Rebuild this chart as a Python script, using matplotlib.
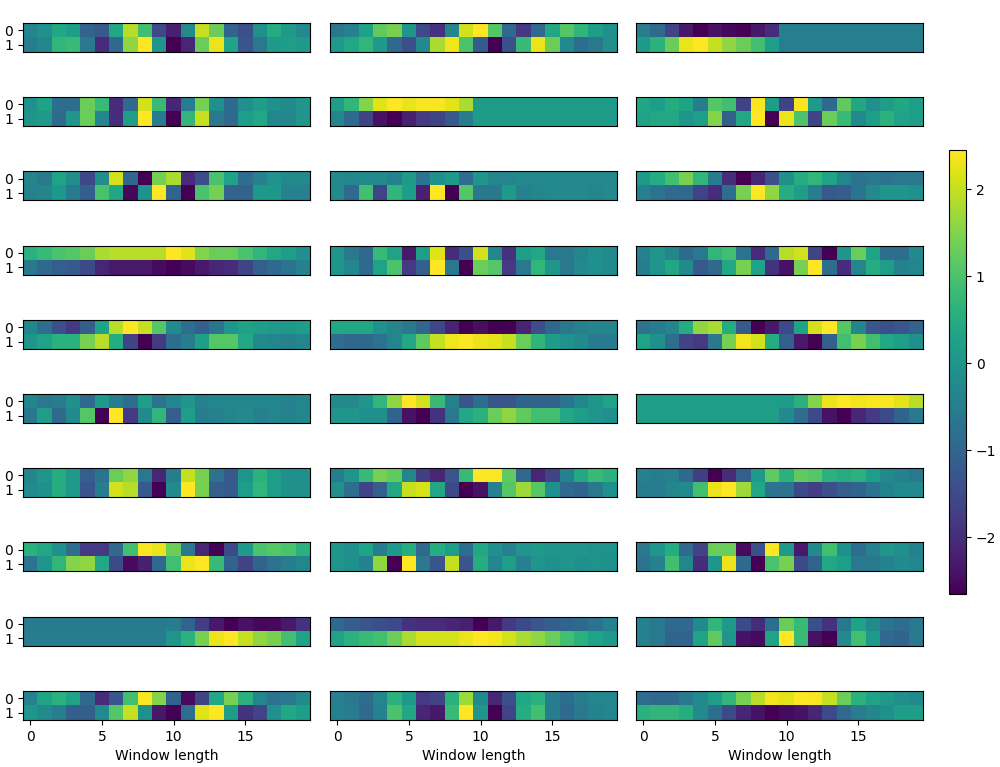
import matplotlib
matplotlib.use("Agg")
import matplotlib.pyplot as plt
import numpy as np

window = list(range(20))
channels = ["0", "1"]
xticks = [0, 5, 10, 15]
cbar_ticks = [-2, -1, 0, 1, 2]

# ---- column 1 ----
c1r1 = [[-0.3, -0.1, 0.4, 0.2, -1.0, -1.2, 0.4, 1.9, 0.9, -1.5, -2.2, -0.2, 2.0, 1.3, -1.0, -1.4, -0.1, 0.5, 0.1, -0.2],
        [-0.5, -0.3, 0.7, 0.8, -0.6, -2.0, -0.9, 1.6, 2.45, 0.0, -2.65, -2.1, 1.3, 2.3, 0.3, -1.3, -0.6, 0.1, 0.2, 0.1]]
c1r2 = [[-0.1, 0.3, -0.8, -0.8, 1.3, 0.8, -2.0, -0.9, 2.1, 0.8, -2.1, -0.5, 1.4, -0.1, -0.9, -0.1, 0.2, -0.1, -0.2, 0.0],
        [0.0, 0.1, -0.9, 0.0, 1.3, -0.3, -2.0, 0.2, 2.45, -0.5, -2.65, 0.7, 2.0, -0.6, -0.9, 0.2, 0.4, -0.3, -0.3, 0.0]]
c1r3 = [[-0.3, -0.5, 0.3, -0.1, -1.5, -0.1, 2.1, -0.9, -2.6, 1.4, 1.8, -2.0, -1.4, 1.0, 0.3, -0.8, -0.4, 0.0, -0.2, -0.2],
        [-0.4, -0.3, 0.1, -0.5, -1.1, 1.0, 0.4, -2.5, 0.0, 2.45, -1.0, -2.6, 1.0, 1.4, -1.0, -1.0, 0.1, 0.1, -0.4, -0.4]]
c1r4 = [[0.6, 0.8, 1.0, 1.1, 1.3, 1.8, 1.9, 1.9, 1.9, 1.9, 2.45, 2.2, 1.5, 1.3, 1.3, 1.0, 0.7, 0.4, 0.2, -0.1],
        [-0.6, -0.9, -1.1, -1.2, -1.5, -2.1, -2.3, -2.3, -2.3, -2.5, -2.65, -2.5, -2.3, -2.1, -2.0, -1.6, -1.1, -0.9, -0.7, -0.4]]
c1r5 = [[-0.3, -0.8, -1.4, -1.8, -1.1, 0.3, 1.9, 2.45, 2.0, 1.1, -0.2, -0.8, -1.1, -0.7, 0.0, 0.3, 0.2, 0.1, 0.1, 0.2],
        [0.0, 0.3, 0.6, 0.6, 1.4, 1.9, 0.5, -1.6, -2.65, -1.8, -0.8, -0.5, 0.2, 1.1, 1.1, 0.4, -0.2, -0.3, -0.4, -0.3]]
c1r6 = [[-0.3, -0.6, -0.5, -0.1, -0.9, 0.1, -0.5, -0.8, 0.2, -0.7, -0.3, 0.0, -0.4, -0.3, -0.3, -0.3, -0.3, -0.3, -0.4, -0.3],
        [-0.6, 0.2, -0.9, -0.2, 1.1, -2.65, 2.45, -1.8, -0.2, 0.7, -1.1, 0.2, -0.5, -0.4, -0.3, -0.2, -0.4, -0.3, -0.4, -0.3]]
c1r7 = [[-0.3, 0.0, 0.5, 0.1, -1.1, -0.7, 1.3, 1.6, -0.6, -2.1, -0.5, 2.0, 1.4, -0.7, -1.2, 0.0, 0.6, 0.2, -0.1, -0.1],
        [-0.2, -0.1, 0.5, 0.1, -1.3, -0.5, 2.1, 1.9, -1.2, -2.65, -0.2, 2.45, 1.4, -1.1, -1.2, 0.2, 0.7, 0.2, -0.1, -0.1]]
c1r8 = [[0.6, 0.4, -0.1, -0.8, -1.8, -1.8, -0.9, 0.9, 2.4, 2.3, 1.3, -0.6, -2.1, -2.65, -1.5, 0.1, 1.0, 1.1, 1.0, 0.6],
        [-0.7, 0.0, 0.7, 1.5, 1.6, 0.4, -1.5, -2.5, -2.2, -0.9, 0.9, 2.3, 2.45, 0.8, -1.0, -1.6, -1.0, -0.7, -0.5, -0.3]]
c1r9 = [[-0.55, -0.55, -0.55, -0.55, -0.55, -0.55, -0.55, -0.55, -0.55, -0.55, -0.5, -1.0, -1.7, -2.3, -2.65, -2.4, -2.55, -2.55, -2.3, -1.9],
        [-0.5, -0.5, -0.5, -0.5, -0.5, -0.5, -0.5, -0.5, -0.5, -0.5, 0.0, 0.6, 1.4, 2.3, 2.45, 2.0, 1.6, 1.4, 0.9, 0.3]]
c1r10 = [[-0.4, 0.3, 0.6, 0.3, -0.9, -2.0, -1.3, 0.9, 2.4, 1.5, -1.0, -2.5, -1.6, 0.4, 1.4, 0.6, -0.3, -0.7, -0.6, -0.2],
         [0.0, -0.2, -0.5, -1.1, -1.1, -0.2, 1.1, 2.0, -0.1, -2.3, -2.65, -0.8, 2.2, 2.45, 0.2, -1.9, -1.6, -0.1, 0.4, 0.2]]

# ---- column 2 ----
c2r1 = [[-0.6, -0.4, 0.3, 1.2, 1.4, 0.0, -1.5, -1.9, -0.3, 2.1, 2.45, 1.1, -0.9, -1.8, -0.9, 0.4, 1.1, 0.7, 0.2, -0.1],
        [0.1, 0.4, 0.7, 0.1, -0.9, -1.4, -0.2, 1.8, 2.35, 1.0, -1.2, -2.65, -1.4, 0.8, 2.3, 1.3, -0.2, -0.8, -0.6, -0.1]]
c2r2 = [[0.2, 0.7, 1.5, 2.2, 2.45, 2.3, 2.4, 2.4, 2.25, 1.8, 0.15, 0.15, 0.15, 0.15, 0.15, 0.15, 0.15, 0.15, 0.15, 0.15],
        [-0.3, -0.9, -1.6, -2.4, -2.65, -2.2, -1.8, -1.6, -1.2, -0.5, 0.15, 0.15, 0.15, 0.15, 0.15, 0.15, 0.15, 0.15, 0.15, 0.15]]
c2r3 = [[-0.2, -0.3, -0.2, -0.2, -0.4, 0.1, -0.7, -0.1, 0.1, -0.8, 0.0, -0.3, -0.3, -0.2, -0.25, -0.25, -0.25, -0.25, -0.25, -0.25],
        [-0.2, -0.9, 0.9, -1.6, 0.7, 0.2, -2.2, 2.45, -2.65, 1.1, -0.6, -0.6, 0.1, -0.4, -0.3, -0.2, -0.25, -0.25, -0.3, -0.25]]
c2r4 = [[0.0, -0.6, -0.9, 0.8, 0.3, -2.3, 0.2, 2.2, -2.0, -1.4, 2.1, -0.3, -1.9, 0.2, 0.4, -0.6, -0.6, -0.3, -0.1, -0.2],
        [0.0, -0.3, -0.9, 0.3, 1.0, -1.8, -1.1, 2.45, -0.6, -2.65, 1.3, 1.1, -1.8, -0.6, 0.7, 0.0, -0.6, -0.2, -0.1, -0.2]]
c2r5 = [[0.4, 0.4, 0.4, 0.0, -0.3, -0.6, -0.9, -1.5, -2.1, -2.6, -2.4, -2.6, -2.6, -2.1, -1.4, -0.9, -0.6, -0.4, -0.3, -0.3],
        [-0.8, -0.9, -0.9, -0.7, -0.3, 0.4, 1.2, 2.0, 2.35, 2.45, 2.3, 2.25, 2.0, 1.3, 0.7, 0.2, 0.0, -0.2, -0.5, -0.5]]
c2r6 = [[-0.2, -0.2, 0.0, 0.7, 1.6, 2.45, 2.1, 0.8, -0.4, -1.3, -0.8, -1.3, -1.3, -1.0, -1.0, -1.0, -0.7, -0.3, 0.0, 0.3],
        [0.0, 0.0, -0.1, -0.1, -1.0, -2.4, -2.65, -1.9, -0.6, 0.4, 0.6, 1.3, 1.6, 1.2, 0.9, 0.9, 0.4, 0.2, 0.0, -0.1]]
c2r7 = [[-0.5, 0.0, 0.8, 1.4, 1.2, -0.3, -1.7, -2.1, -1.3, 0.8, 2.45, 2.45, 1.2, -0.9, -2.1, -1.6, -0.4, 0.4, 0.8, 0.6],
        [-0.1, -0.8, -1.6, -1.1, 0.4, 2.0, 2.15, 0.4, -1.5, -2.65, -2.4, -0.4, 1.1, 1.7, 1.1, -0.1, -0.9, -1.0, -0.6, -0.1]]
c2r8 = [[0.0, -0.1, 0.3, -0.5, 0.1, 0.5, -0.9, 0.5, 0.2, -0.8, 0.4, -0.1, -0.4, 0.0, 0.1, 0.0, 0.0, 0.0, -0.05, -0.05],
        [0.0, -0.1, -0.4, 1.6, -2.65, 2.45, -0.6, -1.3, 2.0, -1.3, 0.5, -0.3, 0.2, -0.4, 0.0, -0.1, 0.0, -0.1, -0.05, -0.1]]
c2r9 = [[-0.9, -1.1, -1.3, -1.4, -1.5, -1.9, -2.0, -2.0, -2.1, -2.2, -2.65, -2.3, -1.8, -1.5, -1.3, -1.1, -1.0, -0.9, -0.7, -0.4],
        [0.3, 0.6, 0.8, 0.9, 1.3, 1.8, 2.1, 2.1, 2.1, 2.3, 2.45, 2.35, 2.1, 1.8, 1.6, 1.3, 0.9, 0.6, 0.3, 0.1]]
c2r10 = [[-0.4, -0.6, -0.8, -0.3, 0.6, 0.1, -1.8, -1.6, 0.6, 1.7, -0.2, -2.1, -1.4, 0.4, 0.6, -0.5, -0.8, -0.5, -0.3, -0.3],
         [-0.4, -0.5, -0.9, -0.4, 1.0, 0.4, -2.1, -2.3, 0.8, 2.45, 0.0, -2.65, -1.6, 0.5, 0.9, -0.5, -0.9, -0.6, -0.4, -0.3]]

# ---- column 3 ----
c3r1 = [[-0.5, -0.9, -1.6, -2.3, -2.65, -2.4, -2.55, -2.6, -2.3, -2.0, -0.45, -0.45, -0.45, -0.45, -0.45, -0.45, -0.45, -0.45, -0.45, -0.45],
        [0.1, 0.6, 1.3, 2.3, 2.45, 2.0, 1.6, 1.3, 0.9, 0.2, -0.45, -0.45, -0.45, -0.45, -0.45, -0.45, -0.45, -0.45, -0.45, -0.45]]
c3r2 = [[0.4, 0.2, 0.5, 0.3, -0.5, 1.1, 0.9, -1.6, 2.4, 0.2, -1.6, 2.4, 0.1, -0.9, 1.2, 0.4, -0.1, 0.2, 0.4, 0.2],
        [0.3, 0.4, 0.4, 0.0, 0.2, 1.5, -1.1, 0.4, 2.45, -2.65, 2.3, 1.0, -1.6, 1.3, 0.8, -0.2, 0.2, 0.6, 0.3, 0.2]]
c3r3 = [[0.1, 0.5, 0.9, 1.4, 0.7, -0.5, -2.0, -2.65, -2.1, -1.4, -0.1, 0.5, 0.7, 0.3, -0.3, -0.7, -0.6, -0.7, -0.6, -0.6],
        [-0.4, -0.7, -0.9, -0.9, -1.6, -2.0, -0.8, 1.4, 2.45, 1.6, 0.5, 0.2, -0.5, -1.2, -1.1, -0.7, -0.2, 0.0, 0.0, -0.1]]
c3r4 = [[-0.4, 0.0, -0.3, -0.9, -0.6, 0.7, 0.9, -0.7, -2.0, -0.9, 1.9, 2.1, -1.6, -2.65, 0.0, 1.3, 0.3, -0.8, -0.8, -0.2],
        [-0.5, 0.0, 0.4, -0.2, -1.2, -0.9, 0.4, 1.4, 0.3, -1.9, -2.4, 1.4, 2.45, -0.8, -2.0, -0.3, 0.5, 0.2, -0.4, -0.3]]
c3r5 = [[-0.7, -0.5, -0.3, 0.5, 1.6, 1.8, 0.5, -1.2, -2.65, -2.3, -1.5, 0.3, 2.1, 2.45, 1.1, -0.3, -1.3, -1.4, -1.3, -1.0],
        [0.3, -0.1, -0.8, -1.6, -1.8, -0.6, 1.4, 2.35, 2.1, 0.5, -1.1, -2.3, -2.65, -1.1, 0.9, 1.4, 0.9, 0.4, 0.2, -0.1]]
c3r6 = [[0.2, 0.2, 0.2, 0.2, 0.2, 0.2, 0.2, 0.2, 0.2, 0.2, 0.15, 0.6, 1.5, 2.3, 2.45, 2.35, 2.4, 2.4, 2.25, 1.9],
        [0.2, 0.2, 0.2, 0.2, 0.2, 0.2, 0.2, 0.2, 0.2, 0.2, -0.2, -0.8, -1.5, -2.4, -2.65, -2.1, -1.8, -1.5, -1.0, -0.6]]
c3r7 = [[-0.4, -0.5, -0.4, -0.9, -1.7, -2.65, -2.0, -1.1, 0.1, 1.2, 0.6, 1.2, 1.1, 0.6, 0.5, 0.6, 0.2, -0.2, -0.4, -0.6],
        [-0.5, -0.5, -0.3, -0.2, 0.9, 2.3, 2.45, 1.7, 0.4, -0.7, -0.7, -1.5, -1.7, -1.4, -1.1, -1.0, -0.7, -0.4, -0.2, -0.2]]
c3r8 = [[-0.6, 0.0, 0.5, -0.9, -1.6, 1.3, 1.3, -2.5, -1.4, 2.45, 0.1, -2.3, -0.2, 0.9, -0.1, -0.8, -0.4, 0.0, -0.1, -0.4],
        [-0.7, -0.4, 0.9, -0.3, -2.0, 0.0, 2.3, -0.9, -2.65, 1.0, 1.4, -1.5, -1.0, 0.4, 0.2, -0.6, -0.6, -0.4, -0.2, -0.3]]
c3r9 = [[-0.4, -0.6, -0.9, -0.9, -0.2, 0.7, 0.1, -1.5, -2.0, -0.8, 1.3, 0.8, -1.4, -1.9, -0.6, 0.3, -0.2, -0.7, -0.8, -0.6],
        [-0.4, -0.6, -1.0, -1.0, 0.3, 1.2, 0.0, -2.4, -2.5, 0.3, 2.45, 0.8, -2.4, -2.65, -0.2, 0.9, 0.1, -0.9, -1.0, -0.6]]
c3r10 = [[-0.8, -0.9, -0.9, -0.6, -0.2, 0.2, 0.7, 1.4, 1.9, 2.35, 2.25, 2.45, 2.4, 2.0, 1.3, 0.6, 0.3, 0.1, -0.1, -0.2],
         [0.6, 0.7, 0.7, 0.5, -0.2, -0.8, -1.5, -2.1, -2.4, -2.65, -2.5, -2.4, -2.1, -1.5, -0.9, -0.5, -0.3, -0.1, 0.2, 0.2]]

columns = [
    [c1r1, c1r2, c1r3, c1r4, c1r5, c1r6, c1r7, c1r8, c1r9, c1r10],
    [c2r1, c2r2, c2r3, c2r4, c2r5, c2r6, c2r7, c2r8, c2r9, c2r10],
    [c3r1, c3r2, c3r3, c3r4, c3r5, c3r6, c3r7, c3r8, c3r9, c3r10],
]

W, H = 1000, 767
fig = plt.figure(figsize=(W / 100, H / 100), dpi=100)

col_left = [23, 330, 636]
panel_w = 287
panel_h = 29
row_top0 = 23
row_pitch = 74.2

im = None
for ci, col in enumerate(columns):
    for ri, data in enumerate(col):
        top = row_top0 + ri * row_pitch
        rect = [col_left[ci] / W, 1 - (top + panel_h) / H, panel_w / W, panel_h / H]
        ax = fig.add_axes(rect)
        im = ax.imshow(np.array(data), cmap="viridis", aspect="auto",
                       interpolation="nearest")
        if ci == 0:
            ax.set_yticks(range(len(channels)))
            ax.set_yticklabels(channels)
        else:
            ax.set_yticks([])
        if ri == len(col) - 1:
            ax.set_xticks(xticks)
            ax.set_xlabel("Window length")
        else:
            ax.set_xticks([])

cax = fig.add_axes([949 / W, 1 - 594 / H, 17 / W, 444 / H])
cb = fig.colorbar(im, cax=cax)
cb.set_ticks(cbar_ticks)

fig.savefig("out.png", dpi=100)
